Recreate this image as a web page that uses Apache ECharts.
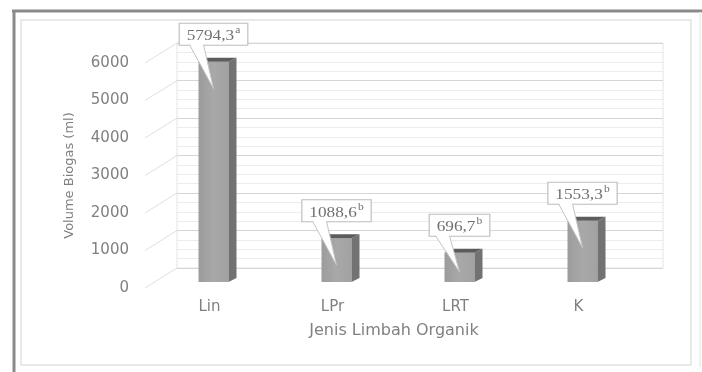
<!DOCTYPE html>
<html>
<head>
<meta charset="utf-8">
<script src="https://cdn.jsdelivr.net/npm/echarts@6/dist/echarts.min.js"></script>
<style>html,body{margin:0;padding:0;background:#fff;}#c{width:702px;height:372px;}</style>
</head>
<body>
<div id="c"></div>
<script>
var categories = ['Lin', 'LPr', 'LRT', 'K'];
var values = [5794.3, 1088.6, 696.7, 1553.3];
var letters = ['a', 'b', 'b', 'b'];
var yTicks = [0, 1000, 2000, 3000, 4000, 5000, 6000];

var chart = echarts.init(document.getElementById('c'));
var axisFont = '"DejaVu Sans", sans-serif';
var serif = '"Liberation Serif", "DejaVu Serif", serif';
var labelTexts = values.map(function (v, i) {
  return '{v|' + v.toFixed(1).replace('.', ',') + '}{s|' + letters[i] + '}';
});

var option = {
  animation: false,
  backgroundColor: '#fff',
  graphic: [
    { type: 'rect', shape: { x: 21, y: 20, width: 670, height: 345 }, style: { fill: 'none', stroke: '#e2e2e2', lineWidth: 1.5 }, silent: true, z: -10 },
    { type: 'line', shape: { x1: 12, y1: 11, x2: 702, y2: 11 }, style: { stroke: '#8a8a8a', lineWidth: 3 }, silent: true },
    { type: 'line', shape: { x1: 14, y1: 10, x2: 14, y2: 372 }, style: { stroke: '#8a8a8a', lineWidth: 3 }, silent: true },
    { type: 'line', shape: { x1: 700, y1: 12, x2: 700, y2: 367 }, style: { stroke: '#ececec', lineWidth: 1.5 }, silent: true }
  ],
  grid: [
    { left: 148, width: 492, top: 63, height: 225 },
    { left: 177, right: 39, top: 43, height: 225, show: true, borderColor: '#e4e4e4', borderWidth: 1 },
    { left: 152, width: 492, top: 54, height: 225 }
  ],
  xAxis: [
    {
      gridIndex: 0, type: 'category', data: categories,
      axisLine: { show: false }, axisTick: { show: false },
      axisLabel: { color: '#808080', fontSize: 15, fontFamily: axisFont, margin: 12 },
      name: 'Jenis Limbah Organik', nameLocation: 'middle', nameGap: 35,
      nameTextStyle: { color: '#808080', fontSize: 16, fontFamily: axisFont }
    },
    { gridIndex: 1, type: 'value', min: 0, max: 1, show: false },
    { gridIndex: 2, type: 'category', data: categories, show: false }
  ],
  yAxis: [
    {
      gridIndex: 0, type: 'value', min: 0, max: 6000, interval: 1000,
      axisLine: { show: false }, axisTick: { show: false }, splitLine: { show: false },
      axisLabel: { color: '#808080', fontSize: 15, fontFamily: axisFont, margin: 19,
        formatter: function (v) { return String(v); } },
      name: 'Volume Biogas (ml)', nameLocation: 'middle', nameRotate: 90, nameGap: 72,
      nameTextStyle: { color: '#808080', fontSize: 13, fontFamily: axisFont }
    },
    {
      gridIndex: 1, type: 'value', min: 0, max: 6000, interval: 1000,
      axisLine: { show: false }, axisTick: { show: false }, axisLabel: { show: false },
      splitLine: { show: true, lineStyle: { color: '#d6d6d6', width: 1 } },
      minorTick: { show: false, splitNumber: 4 },
      minorSplitLine: { show: true, lineStyle: { color: '#ececec', width: 1 } }
    },
    { gridIndex: 2, type: 'value', min: 0, max: 6000, show: false }
  ],
  series: [
    {
      type: 'custom', xAxisIndex: 1, yAxisIndex: 1, silent: true,
      data: yTicks.map(function (t) { return [0, t]; }),
      renderItem: function (params, api) {
        var p = api.coord([0, api.value(1)]);
        return {
          type: 'line',
          shape: { x1: p[0] - 32, y1: p[1] + 20, x2: p[0], y2: p[1] },
          style: { stroke: '#e0e0e0', lineWidth: 1 }
        };
      }
    },
    {
      type: 'custom', xAxisIndex: 2, yAxisIndex: 2, silent: true, z: 5,
      data: values.map(function (v, i) { return [i, v]; }),
      renderItem: function (params, api) {
        var idx = params.dataIndex;
        var top = api.coord([api.value(0), api.value(1)]);
        var base = api.coord([api.value(0), 0]);
        var cx = top[0], ty = top[1], by = base[1] + 3;
        var hw = 15, dx = 8, dy = 4;
        var l = cx - hw, r = cx + hw;
        var children = [
          { type: 'rect', shape: { x: l, y: ty, width: 2 * hw, height: by - ty },
            style: { fill: new echarts.graphic.LinearGradient(0, 0, 1, 0, [
              { offset: 0, color: '#9c9c9c' }, { offset: 0.5, color: '#a8a8a8' }, { offset: 1, color: '#a2a2a2' }]) } },
          { type: 'polygon', shape: { points: [[r, ty], [r + dx, ty - dy], [r + dx, by - dy], [r, by]] },
            style: { fill: '#727272' } },
          { type: 'polygon', shape: { points: [[l, ty], [l + dx, ty - dy], [r + dx, ty - dy], [r, ty]] },
            style: { fill: '#5c5c5c' } }
        ];
        var bx = cx, boxBottom = ty - 17, boxH = 21;
        var tipY = Math.min(ty + 27, by - 10);
        children.push({
          type: 'text',
          x: bx, y: boxBottom - boxH / 2, scaleX: 1.15,
          style: {
            text: labelTexts[idx], x: 0, y: 0,
            align: 'center', verticalAlign: 'middle',
            backgroundColor: '#fff', borderColor: '#bdbdbd', borderWidth: 1,
            padding: [2, 6, 1, 6],
            rich: {
              v: { fontFamily: serif, fontSize: 15, fill: '#707070', lineHeight: 18, verticalAlign: 'bottom' },
              s: { fontFamily: serif, fontSize: 10, fill: '#707070', lineHeight: 10, verticalAlign: 'top', padding: [0, 0, 0, 1] }
            }
          }
        });
        var b1 = [bx - 24, boxBottom - 1], b2 = [bx - 10, boxBottom - 1], tip = [cx, tipY];
        children.push({ type: 'polygon', shape: { points: [b1, tip, b2] }, style: { fill: '#fff' } });
        children.push({ type: 'polyline', shape: { points: [[b1[0], boxBottom], tip, [b2[0], boxBottom]] },
          style: { stroke: '#c4c4c4', lineWidth: 1, fill: 'none' } });
        return { type: 'group', children: children };
      }
    }
  ]
};
chart.setOption(option);
</script>
</body>
</html>
